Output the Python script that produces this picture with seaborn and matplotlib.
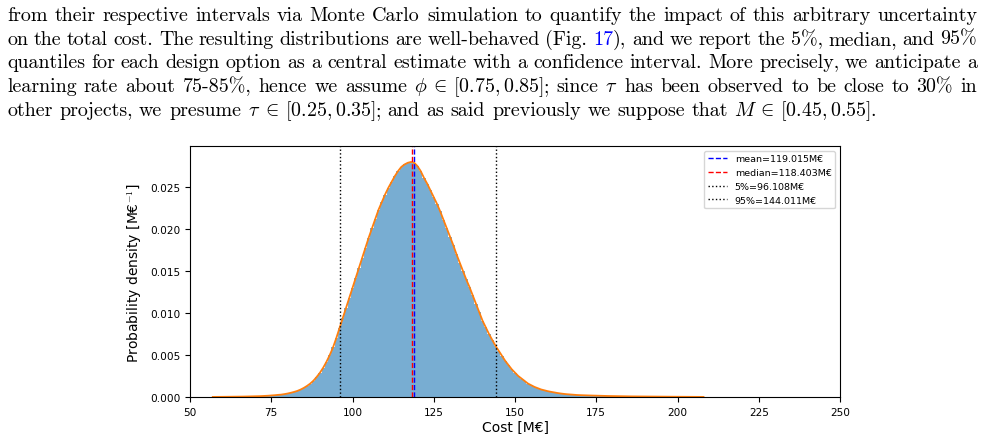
import re
import numpy as np
import pandas as pd
import matplotlib
matplotlib.use("Agg")
import matplotlib.pyplot as plt
import seaborn as sns

# ---- text of the page above the figure ({..} = blue link text, ~ = math space) ----
para_lines = [
    "from their respective intervals via Monte Carlo simulation to quantify the impact of this arbitrary uncertainty",
    "on the total cost. The resulting distributions are well-behaved (Fig. {17}), and we report the 5%, median, and 95%",
    "quantiles for each design option as a central estimate with a confidence interval. More precisely, we anticipate a",
    r"learning rate about 75-85%, hence we assume $\phi$~$\in$~~$[0.75,0.85]$; since $\tau$ has been observed to be close to 30% in",
    r"other projects, we presume $\tau$~$\in$~~$[0.25,0.35]$; and as said previously we suppose that $M$$\in$~~$[0.45,0.55]$.",
]

# ---- histogram (cost in M€, density in 1/M€) ----
left_tail_edges = [57.0, 63.5, 69.5]
core_edges = list(np.arange(73.5, 171.0, 1.0))      # 1 M€ bins centred on 74 ... 170
right_tail_edges = [175.5, 181.5, 190.5, 208.0]

left_tail_density = [0.00002, 0.00005, 0.0001]
core_density = [
    0.00015, 0.00018, 0.00021, 0.00025, 0.00028, 0.00034, 0.00041, 0.0005, 0.0006, 0.00072,   # 74-83
    0.00088, 0.00108, 0.00132, 0.0016, 0.00195, 0.0024, 0.0029, 0.0035, 0.0042, 0.0050,       # 84-93
    0.0059, 0.0070, 0.0082, 0.0094, 0.0106, 0.0118, 0.0130, 0.0142, 0.0154, 0.0166,           # 94-103
    0.0178, 0.0190, 0.0201, 0.0212, 0.0223, 0.0232, 0.0241, 0.0249, 0.0256, 0.0263,           # 104-113
    0.0269, 0.0274, 0.0277, 0.0279, 0.0280, 0.0279, 0.0275, 0.0269, 0.0261, 0.0254,           # 114-123
    0.0246, 0.0238, 0.0230, 0.0221, 0.0211, 0.0201, 0.0191, 0.0181, 0.0170, 0.0160,           # 124-133
    0.0150, 0.0140, 0.0131, 0.0121, 0.0111, 0.0101, 0.0091, 0.0083, 0.0075, 0.0068,           # 134-143
    0.0061, 0.0055, 0.0049, 0.0043, 0.0038, 0.0033, 0.0029, 0.0025, 0.0022, 0.0019,           # 144-153
    0.0016, 0.0014, 0.0012, 0.00105, 0.0009, 0.0008, 0.0007, 0.00062, 0.00055, 0.00048,      # 154-163
    0.00042, 0.00037, 0.00033, 0.0003, 0.00027, 0.00024, 0.00022,                             # 164-170
]
right_tail_density = [0.00018, 0.00012, 0.00007, 0.00003]

# ends of the fitted curve
curve_start = (57.0, 0.00001)
curve_end = (208.0, 0.00001)

stats_names = ["mean", "median", "5%", "95%"]
stats_values = [119.015, 118.403, 96.108, 144.011]
stats_colors = ["b", "r", "k", "k"]
stats_styles = ["--", "--", ":", ":"]

edges = left_tail_edges + core_edges + right_tail_edges
density = left_tail_density + core_density + right_tail_density
centers = [(a + b) / 2 for a, b in zip(edges[:-1], edges[1:])]
hist_df = pd.DataFrame({"cost": centers, "density": density})
curve_df = pd.DataFrame({"cost": [curve_start[0]] + centers + [curve_end[0]],
                         "density": [curve_start[1]] + density + [curve_end[1]]})

W, H = 984, 435
plt.rcParams["mathtext.fontset"] = "cm"
fig = plt.figure(figsize=(W / 100, H / 100), dpi=100)
renderer = fig.canvas.get_renderer()

# ---- justified paragraph ----
fs = 14.4
txt_kw = dict(fontfamily="cmr10", fontsize=fs, va="baseline", ha="left")
x_left, x_right = 7, 977
baseline0, line_step = 21, 23.7
math_sp = 0.13 * fs * 100 / 72


def measure(s):
    t = fig.text(0, 0, s, **txt_kw)
    w = t.get_window_extent(renderer).width
    t.remove()
    return w


space_w = measure("a a") - measure("aa")
for i, line in enumerate(para_lines):
    words = line.split(" ")
    segs = []
    for w in words:
        parts = [p for p in re.split(r"(\{[^}]*\}|~|\$[^$]*\$)", w) if p]
        ws = []
        for p in parts:
            if p == "~":
                ws.append(("", "black", math_sp))
            elif p.startswith("{"):
                ws.append((p[1:-1], "blue", measure(p[1:-1])))
            else:
                ws.append((p, "black", measure(p)))
        segs.append(ws)
    widths = [sum(s[2] for s in ws) for ws in segs]
    if i < len(para_lines) - 1:
        gap = (x_right - x_left - sum(widths)) / (len(words) - 1)
    else:
        gap = space_w
    x = x_left
    y = 1 - (baseline0 + i * line_step) / H
    for ws, wtot in zip(segs, widths):
        xx = x
        for p, c, pw in ws:
            if p:
                fig.text(xx / W, y, p, color=c, **txt_kw)
            xx += pw
        x += wtot + gap

# ---- histogram figure ----
ax = fig.add_axes([190 / W, 37 / H, 650 / W, 251 / H])
sns.histplot(data=hist_df, x="cost", weights="density", bins=edges, stat="count",
             color="#1f77b4", alpha=0.6, linewidth=0, ax=ax)
sns.lineplot(data=curve_df, x="cost", y="density", color="#ff7f0e", linewidth=1.3, ax=ax)
for name, v, c, ls in zip(stats_names, stats_values, stats_colors, stats_styles):
    ax.axvline(v, color=c, ls=ls, lw=1, label=f"{name}={v:.3f}M€")

ax.set_xlim(50, 250)
ax.set_ylim(0, 0.0299)
ax.set_xticks([50, 75, 100, 125, 150, 175, 200, 225, 250])
ax.tick_params(labelsize=7.6)
ax.set_xlabel("Cost [M€]", fontsize=10, labelpad=2)
ax.set_ylabel("Probability density [M€$^{-1}$]", fontsize=10)
ax.legend(loc="upper right", fontsize=6.8)

fig.savefig("out.png", dpi=100)
